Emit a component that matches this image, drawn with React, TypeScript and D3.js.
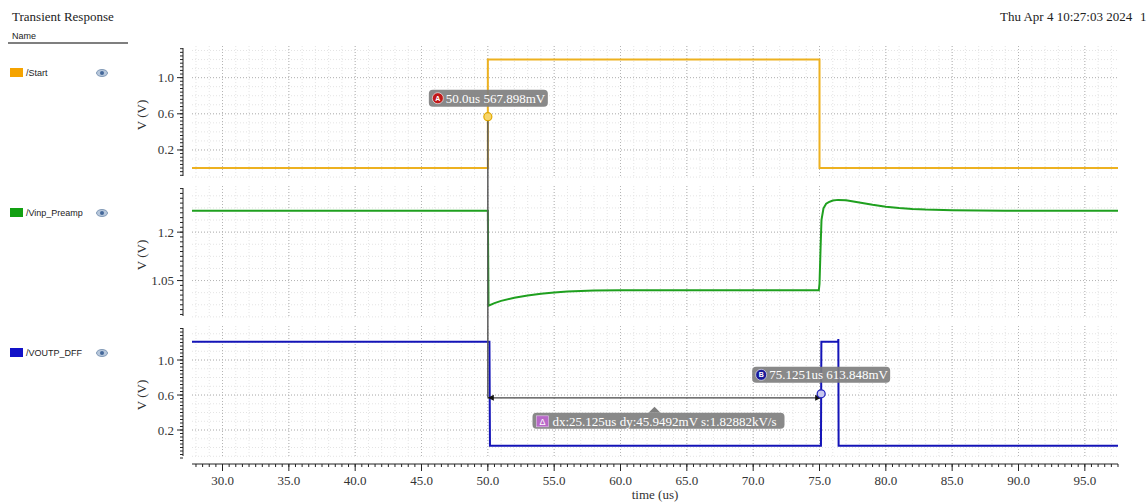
import React from "react";
import * as d3 from "d3";

const W = 1148;
const H = 504;

// ---- data ----
const timeTicks = [30, 35, 40, 45, 50, 55, 60, 65, 70, 75, 80, 85, 90, 95];
const timeDomain = [27.7, 97.5];

const startT = [27.7, 50.0, 50.0, 75.0, 75.0, 97.5];
const startV = [0.0, 0.0, 1.2, 1.2, 0.0, 0.0];

const vinpT = [27.7, 50.0, 50.05, 50.5, 51, 52, 53, 54, 55, 56, 58, 60, 74.95, 75.0, 75.08, 75.15, 75.3, 75.5, 75.7, 76.0, 76.4, 77, 78, 79, 80, 81, 82, 83, 85, 87, 89, 97.5];
const vinpV = [1.266, 1.266, 0.972, 0.98, 0.987, 0.997, 1.004, 1.009, 1.013, 1.016, 1.019, 1.02, 1.02, 1.04, 1.15, 1.238, 1.274, 1.288, 1.293, 1.298, 1.3, 1.299, 1.292, 1.285, 1.279, 1.275, 1.272, 1.27, 1.268, 1.267, 1.266, 1.266];

const voutT = [27.7, 50.12, 50.16, 75.11, 75.14, 76.4, 76.42, 76.44, 97.5];
const voutV = [1.21, 1.21, 0.021, 0.021, 1.21, 1.21, 1.24, 0.021, 0.021];

const panel1Ticks = [0.2, 0.6, 1.0];
const panel2Ticks = [1.05, 1.2];
const panel3Ticks = [0.2, 0.6, 1.0];

const markerA = { t: 50.0, v: 0.567898, label: "50.0us 567.898mV" };
const markerB = { t: 75.1251, v: 0.613848, label: "75.1251us 613.848mV" };
const deltaLabel = "dx:25.125us dy:45.9492mV s:1.82882kV/s";

const names = ["/Start", "/Vinp_Preamp", "/VOUTP_DFF"];
const colors = ["#EDB120", "#1FA01F", "#1414B8"];
const swatchColors = ["#F5A300", "#12A012", "#1212C8"];

// ---- layout ----
const plotLeft = 192;
const plotRight = 1118;
const yAxisX = 183;
const xAxisY = 464;

const panels = [
  { top: 46, bottom: 178, domain: [-0.11, 1.35], ticks: panel1Ticks, minor: 0.04, fmt: (v: number) => v.toFixed(1) },
  { top: 186, bottom: 318, domain: [0.934, 1.343], ticks: panel2Ticks, minor: 0.015, fmt: (v: number) => (v === 1.2 ? "1.2" : v.toFixed(2)) },
  { top: 326, bottom: 458, domain: [-0.12, 1.389], ticks: panel3Ticks, minor: 0.04, fmt: (v: number) => v.toFixed(1) },
];

const serif = "'Liberation Serif', 'Times New Roman', serif";
const sans = "'Liberation Sans', Arial, sans-serif";

function minorRange(lo: number, hi: number, step: number) {
  const out: number[] = [];
  const s = Math.ceil(lo / step - 1e-9);
  for (let i = s; i * step <= hi + 1e-9; i++) out.push(+(i * step).toFixed(6));
  return out;
}

export default function App() {
  const x = d3.scaleLinear().domain(timeDomain).range([plotLeft, plotRight]);
  const yScales = panels.map((p) => d3.scaleLinear().domain(p.domain).range([p.bottom, p.top]));

  const series = [
    { t: startT, v: startV },
    { t: vinpT, v: vinpV },
    { t: voutT, v: voutV },
  ];

  const xMinor = minorRange(timeDomain[0], timeDomain[1], 0.5);
  const xGridMinor = minorRange(timeDomain[0], timeDomain[1], 1.0);

  const ax = x(markerA.t);
  const ay = yScales[0](markerA.v);
  const bx = x(markerB.t);
  const by = yScales[2](markerB.v);
  const dy = yScales[2](markerA.v);

  return (
    <svg width={W} height={H} style={{ position: "absolute", left: 0, top: 0, background: "#fff" }}>
      <rect x={0} y={0} width={W} height={H} fill="#fff" />
      {/* header */}
      <text x={12} y={21} fontFamily={serif} fontSize={13} fill="#222">Transient Response</text>
      <text x={1000} y={21} fontFamily={serif} fontSize={13} fill="#222">Thu Apr 4 10:27:03 2024</text>
      <text x={1140} y={21} fontFamily={serif} fontSize={13} fill="#222">1</text>
      <text x={12} y={39} fontFamily={sans} fontSize={9} fill="#222">Name</text>
      <line x1={8} x2={128} y1={43} y2={43} stroke="#555" strokeWidth={1.5} />

      {panels.map((p, i) => {
        const y = yScales[i];
        const yMinor = minorRange(p.domain[0], p.domain[1], p.minor);
        const yGridMinor = minorRange(p.domain[0], p.domain[1], p.minor * 2.5);
        const line = d3
          .line<number>()
          .x((_, k) => x(series[i].t[k]))
          .y((_, k) => y(series[i].v[k]));
        const mid = (p.top + p.bottom) / 2;
        const legY = [73, 213, 353][i];
        return (
          <g key={i}>
            {/* legend */}
            <rect x={10} y={legY - 5} width={13} height={9} fill={swatchColors[i]} />
            <text x={26} y={legY + 3} fontFamily={sans} fontSize={9} fill="#222">{names[i]}</text>
            <g transform={`translate(102,${legY})`}>
              <ellipse cx={0} cy={0} rx={5.5} ry={3.5} fill="#b8c8dc" stroke="#6b86a8" strokeWidth={0.8} />
              <circle cx={0} cy={0} r={2} fill="#45689a" />
            </g>
            {/* grid */}
            <g>
              {xGridMinor.map((t) => (
                <line key={"vx" + t} x1={x(t)} x2={x(t)} y1={p.top} y2={p.bottom} stroke="#e4e4e4" strokeWidth={1} strokeDasharray="1,2" />
              ))}
              {yGridMinor.map((v) => (
                <line key={"hy" + v} x1={plotLeft} x2={plotRight} y1={y(v)} y2={y(v)} stroke="#e4e4e4" strokeWidth={1} strokeDasharray="1,2" />
              ))}
              {timeTicks.map((t) => (
                <line key={"gx" + t} x1={x(t)} x2={x(t)} y1={p.top} y2={p.bottom} stroke="#b4b4b4" strokeWidth={1} strokeDasharray="1,2" />
              ))}
              {p.ticks.map((v) => (
                <line key={"gy" + v} x1={plotLeft} x2={plotRight} y1={y(v)} y2={y(v)} stroke="#b4b4b4" strokeWidth={1} strokeDasharray="1,2" />
              ))}
            </g>
            {/* y axis */}
            <line x1={yAxisX} x2={yAxisX} y1={p.top + 2} y2={p.bottom - 2} stroke="#222" strokeWidth={1} />
            {yMinor.map((v) => (
              <line key={"ym" + v} x1={yAxisX - 3} x2={yAxisX} y1={y(v)} y2={y(v)} stroke="#222" strokeWidth={1} />
            ))}
            {p.ticks.map((v) => (
              <g key={"yt" + v}>
                <line x1={yAxisX - 6} x2={yAxisX} y1={y(v)} y2={y(v)} stroke="#222" strokeWidth={1} />
                <text x={yAxisX - 9} y={y(v) + 4.5} textAnchor="end" fontFamily={serif} fontSize={13} fill="#333">{p.fmt(v)}</text>
              </g>
            ))}
            <text transform={`translate(146,${mid + 3}) rotate(-90)`} textAnchor="middle" fontFamily={serif} fontSize={13} fill="#333">V (V)</text>
            {/* series */}
            <path d={line(series[i].t) || ""} fill="none" stroke={colors[i]} strokeWidth={2} />
          </g>
        );
      })}

      {/* x axis */}
      <line x1={plotLeft} x2={plotRight} y1={xAxisY} y2={xAxisY} stroke="#222" strokeWidth={1} />
      {xMinor.map((t) => (
        <line key={"xm" + t} x1={x(t)} x2={x(t)} y1={xAxisY} y2={xAxisY + 3} stroke="#222" strokeWidth={1} />
      ))}
      {timeTicks.map((t) => (
        <g key={"xt" + t}>
          <line x1={x(t)} x2={x(t)} y1={xAxisY} y2={xAxisY + 7} stroke="#222" strokeWidth={1} />
          <text x={x(t)} y={485} textAnchor="middle" fontFamily={serif} fontSize={13} fill="#333">{t.toFixed(1)}</text>
        </g>
      ))}
      <text x={(plotLeft + plotRight) / 2 + 0} y={499} textAnchor="middle" fontFamily={serif} fontSize={13} fill="#333">time (us)</text>

      {/* marker A vertical + delta */}
      <line x1={ax} x2={ax} y1={ay} y2={dy} stroke="#5a5a5a" strokeWidth={1.5} />
      <line x1={ax} x2={bx} y1={dy} y2={dy} stroke="#444" strokeWidth={1.2} />
      <path d={`M${ax + 6},${dy - 3} L${ax},${dy} L${ax + 6},${dy + 3} Z`} fill="#111" />
      <path d={`M${bx - 6},${dy - 3} L${bx},${dy} L${bx - 6},${dy + 3} Z`} fill="#111" />

      {/* marker A */}
      <circle cx={ax} cy={ay} r={4} fill="#F7D56A" stroke="#E0A800" strokeWidth={1.2} />
      <g>
        <rect x={ax - 59} y={ay - 27} width={119} height={17} rx={4} fill="#7f7f7f" fillOpacity={0.92} />
        <circle cx={ax - 50} cy={ay - 18.5} r={5.5} fill="#c01818" stroke="#fff" strokeWidth={0.6} />
        <text x={ax - 50} y={ay - 16} textAnchor="middle" fontFamily={sans} fontSize={7} fontWeight="bold" fill="#fff">A</text>
        <text x={ax - 42} y={ay - 14} fontFamily={serif} fontSize={13} fill="#fff">{markerA.label}</text>
      </g>

      {/* marker B */}
      <circle cx={bx} cy={by} r={4} fill="#c8c8f0" stroke="#2020c0" strokeWidth={1.2} />
      <g>
        <rect x={bx - 69} y={by - 27} width={138} height={16} rx={4} fill="#7f7f7f" fillOpacity={0.92} />
        <circle cx={bx - 60} cy={by - 19} r={5.5} fill="#1a1a9a" stroke="#fff" strokeWidth={0.6} />
        <text x={bx - 60} y={by - 16.5} textAnchor="middle" fontFamily={sans} fontSize={7} fontWeight="bold" fill="#fff">B</text>
        <text x={bx - 52} y={by - 14.5} fontFamily={serif} fontSize={13} fill="#fff">{markerB.label}</text>
      </g>

      {/* delta label */}
      {(() => {
        const cx = (ax + bx) / 2;
        const top = dy + 15;
        const left = cx - 122;
        const w = 252;
        const h = 16;
        return (
          <g>
            <path d={`M${cx - 6},${top} L${cx},${top - 6} L${cx + 6},${top} Z`} fill="#7f7f7f" />
            <rect x={left} y={top} width={w} height={h} rx={4} fill="#7f7f7f" fillOpacity={0.92} />
            <rect x={left + 4} y={top + 3} width={12} height={11} fill="#b868c8" stroke="#e6c6ee" strokeWidth={0.6} />
            <text x={left + 10} y={top + 12} textAnchor="middle" fontFamily={sans} fontSize={9} fill="#fff">Δ</text>
            <text x={left + 20} y={top + 13} fontFamily={serif} fontSize={13} fill="#fff">{deltaLabel}</text>
          </g>
        );
      })()}
    </svg>
  );
}
